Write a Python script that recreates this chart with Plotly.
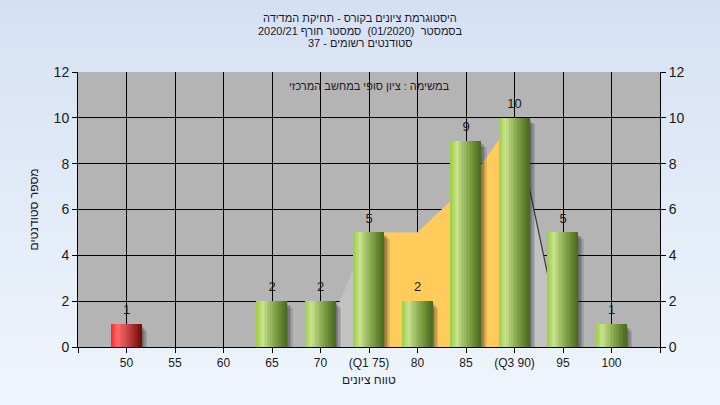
import plotly.graph_objects as go

# ---------------- data ----------------
categories = [50, 55, 60, 65, 70, 75, 80, 85, 90, 95, 100]
tick_labels = ["50", "55", "60", "65", "70", "(Q1 75)", "80", "85", "(Q3 90)", "95", "100"]
counts = [1, 0, 0, 2, 2, 5, 2, 9, 10, 5, 1]
fail_below = 55
curve_x = [70, 75, 80, 85, 90, 95]
curve_y = [0, 5, 5, 7, 10, 0]
q1 = 75
q3 = 90
y_ticks = [0, 2, 4, 6, 8, 10, 12]

title_lines = [
    "היסטוגרמת ציונים בקורס - תחיקת המדידה",
    "בסמסטר\u00a0 (01/2020)\u00a0 סמסטר חורף 2020/21",
    "סטודנטים רשומים - 37",
]
subtitle = "במשימה : ציון סופי במחשב המרכזי"
x_title = "טווח ציונים"
y_title = "מספר סטודנטים"

# ---------------- style ----------------
FONT = "Liberation Sans, Arial, DejaVu Sans, sans-serif"
W, H = 720, 405
ML, MR, MT, MB = 78, 60, 72, 58
PW, PH = W - ML - MR, H - MT - MB
BAR_W = 3.1
N_STRIPS = 20


def px_x(px):
    return (px - ML) / PW


def px_y(py):
    return (H - MB - py) / PH


def hex2rgb(h):
    h = h.lstrip("#")
    return tuple(int(h[i:i + 2], 16) for i in (0, 2, 4))


def grad(stops, t):
    for (t0, c0), (t1, c1) in zip(stops, stops[1:]):
        if t0 <= t <= t1:
            f = (t - t0) / (t1 - t0) if t1 > t0 else 0
            a, b = hex2rgb(c0), hex2rgb(c1)
            return "rgb(%d,%d,%d)" % tuple(round(a[k] + (b[k] - a[k]) * f) for k in range(3))
    return stops[-1][1]


green_stops = [(0, "#9ECC40"), (0.22, "#C8E38E"), (0.5, "#93B359"), (0.8, "#66862F"), (1, "#4A6822")]
red_stops = [(0, "#FF1E1E"), (0.22, "#FF6C6C"), (0.5, "#CF4C4C"), (0.8, "#9A2222"), (1, "#740808")]

fig = go.Figure()

# ---- curve areas on base subplot (drawn beneath) ----
fig.add_trace(go.Scatter(x=curve_x, y=curve_y, mode="lines", fill="tozeroy",
                         line=dict(width=0, color="rgba(0,0,0,0)"),
                         fillcolor="#C2C2C2", hoverinfo="skip", showlegend=False))
mid_x = [x for x in curve_x if q1 <= x <= q3]
mid_y = [y for x, y in zip(curve_x, curve_y) if q1 <= x <= q3]
fig.add_trace(go.Scatter(x=mid_x, y=mid_y, mode="lines", fill="tozeroy",
                         line=dict(width=0, color="rgba(0,0,0,0)"),
                         fillcolor="#FFCB5A", hoverinfo="skip", showlegend=False))
right_x = [x for x in curve_x if x >= q3]
right_y = [y for x, y in zip(curve_x, curve_y) if x >= q3]
fig.add_trace(go.Scatter(x=right_x, y=right_y, mode="lines",
                         line=dict(width=1.2, color="#3A3A3A"),
                         hoverinfo="skip", showlegend=False))

# ---- shadows (overlay subplot) ----
for dx, dy, op in [(0.15, 0.10, 0.18), (0.3, 0.16, 0.17), (0.45, 0.22, 0.15), (0.6, 0.28, 0.12)]:
    fig.add_trace(go.Bar(x=categories, y=[max(c - dy, 0) for c in counts], yaxis="y2",
                         width=BAR_W, offset=-BAR_W / 2 + dx,
                         marker=dict(color="rgba(25,25,25,%.2f)" % op, line=dict(width=0)),
                         hoverinfo="skip", showlegend=False))

# ---- cylinder bars as strips ----
sw = BAR_W / N_STRIPS
for i in range(N_STRIPS):
    t = (i + 0.5) / N_STRIPS
    cols = [grad(red_stops, t) if c < fail_below else grad(green_stops, t) for c in categories]
    fig.add_trace(go.Bar(x=categories, y=counts, yaxis="y2",
                         width=sw * 1.06, offset=-BAR_W / 2 + i * sw,
                         marker=dict(color=cols, line=dict(width=0)),
                         hoverinfo="skip", showlegend=False))

# ---- value labels ----
lx = [c for c, v in zip(categories, counts) if v > 0]
ly = [v for v in counts if v > 0]
fig.add_trace(go.Scatter(x=lx, y=ly, yaxis="y2", mode="markers+text", text=[str(v) for v in ly],
                         textposition="top center", cliponaxis=False,
                         marker=dict(size=9, opacity=0),
                         textfont=dict(family=FONT, size=13, color="#1A1A1A"),
                         hoverinfo="skip", showlegend=False))

# ---- background gradient ----
y_bot = -MB / PH
y_top = 1 + MT / PH
shapes = []
NB = 40
top_c, bot_c = "#D5E1F3", "#EFF5FC"
for b in range(NB):
    y0 = y_top - (y_top - y_bot) * b / NB
    y1 = y_top - (y_top - y_bot) * (b + 1) / NB
    shapes.append(dict(type="rect", xref="paper", yref="paper", x0=-0.2, x1=1.2,
                       y0=y1, y1=y0 + 0.002, layer="below", line=dict(width=0),
                       fillcolor=grad([(0, top_c), (1, bot_c)], (b + 0.5) / NB)))
shapes.append(dict(type="rect", xref="paper", yref="paper", x0=0, x1=1, y0=0, y1=1,
                   layer="below", line=dict(width=0), fillcolor="#B4B4B4"))

axis_common = dict(range=[y_ticks[0], y_ticks[-1]], tickvals=y_ticks, ticks="outside",
                   ticklen=5, tickcolor="black", showline=True, linecolor="black",
                   linewidth=1, zeroline=False, automargin=False,
                   tickfont=dict(family=FONT, size=14, color="#1A1A1A"))

annotations = []
for k, line in enumerate(title_lines):
    annotations.append(dict(text=line, xref="paper", yref="paper", x=px_x(360),
                            y=px_y(18 + 12.5 * k), xanchor="center", yanchor="middle",
                            showarrow=False,
                            font=dict(family=FONT, size=11, color="#1A1A2A")))
annotations.append(dict(text=subtitle, xref="paper", yref="paper", x=0.5, y=px_y(86),
                        xanchor="center", yanchor="middle", showarrow=False,
                        font=dict(family=FONT, size=11, color="#1A1A2A")))
annotations.append(dict(text=x_title, xref="paper", yref="paper", x=0.5, y=px_y(380),
                        xanchor="center", yanchor="middle", showarrow=False,
                        font=dict(family=FONT, size=12, color="#1A1A2A")))
annotations.append(dict(text=y_title, xref="paper", yref="paper", x=px_x(33), y=0.5,
                        xanchor="center", yanchor="middle", showarrow=False, textangle=-90,
                        font=dict(family=FONT, size=12, color="#1A1A2A")))

fig.update_layout(
    width=W, height=H,
    margin=dict(l=ML, r=MR, t=MT, b=MB, autoexpand=False),
    paper_bgcolor="#E2EBF7", plot_bgcolor="rgba(0,0,0,0)",
    barmode="overlay", bargap=0,
    shapes=shapes,
    annotations=annotations,
    hovermode=False,
    xaxis=dict(range=[45, 105], tickvals=[45] + categories + [105],
               ticktext=[""] + tick_labels + [""], ticks="outside", ticklen=5,
               tickcolor="black", showline=True, linecolor="black", linewidth=1,
               showgrid=True, gridcolor="black", gridwidth=1, zeroline=False,
               automargin=False,
               tickfont=dict(family=FONT, size=12, color="#1A1A1A")),
    yaxis=dict(**axis_common, showgrid=True, gridcolor="black", gridwidth=1),
    yaxis2=dict(**axis_common, overlaying="y", side="right", showgrid=False),
)

fig.write_html("out.html", config={"displayModeBar": False},
               post_script="document.body.style.margin='0';")
